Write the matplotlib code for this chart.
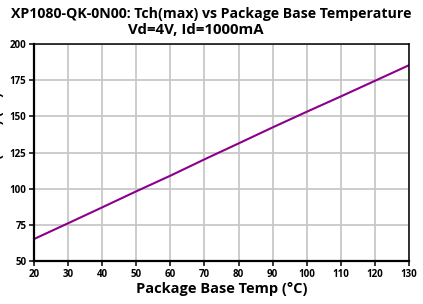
import matplotlib.pyplot as plt

temp = [20, 30, 40, 50, 60, 70, 80, 90, 100, 110, 120, 130]
tch = [65.2, 76.1, 87.1, 98.2, 109.0, 120.3, 131.3, 142.4, 153.2, 163.8, 174.6, 185.4]

xticks = list(range(20, 131, 10))
yticks = [50, 75, 100, 125, 150, 175, 200]

plt.rcParams['font.family'] = ['Open Sans', 'DejaVu Sans']

fig = plt.figure(figsize=(4.23, 3.04), dpi=100)
ax = fig.add_axes([0.0804, 0.1414, 0.8866, 0.7136])

ax.plot(temp, tch, color="#8B008B", linewidth=1.5)

ax.set_xlim(20, 130)
ax.set_ylim(50, 200)
ax.set_xticks(xticks)
ax.set_yticks(yticks)
ax.grid(True, color="#c8c8c8", linewidth=1.3)
ax.set_axisbelow(True)

for side in ["left", "bottom"]:
    ax.spines[side].set_linewidth(1.6)
for side in ["top", "right"]:
    ax.spines[side].set_linewidth(1.1)

ax.tick_params(axis="both", labelsize=7, width=1.1, length=3.5, pad=2)
for lbl in ax.get_xticklabels() + ax.get_yticklabels():
    lbl.set_fontweight("bold")

ax.set_xlabel("Package Base Temp (\u00b0C)", fontsize=10.5, fontweight="bold", labelpad=2)

fig.text(0.026, 0.955, "XP1080-QK-0N00: Tch(max) vs Package Base Temperature",
         fontsize=10.2, fontweight="bold", ha="left", va="center")
fig.text(0.462, 0.900, "Vd=4V, Id=1000mA",
         fontsize=10.8, fontweight="bold", ha="center", va="center")
fig.text(-0.008, 0.55, "Tch(max) (\u00b0C)", rotation=90,
         fontsize=10, fontweight="bold", ha="center", va="center")

fig.savefig("out.png", dpi=100)
